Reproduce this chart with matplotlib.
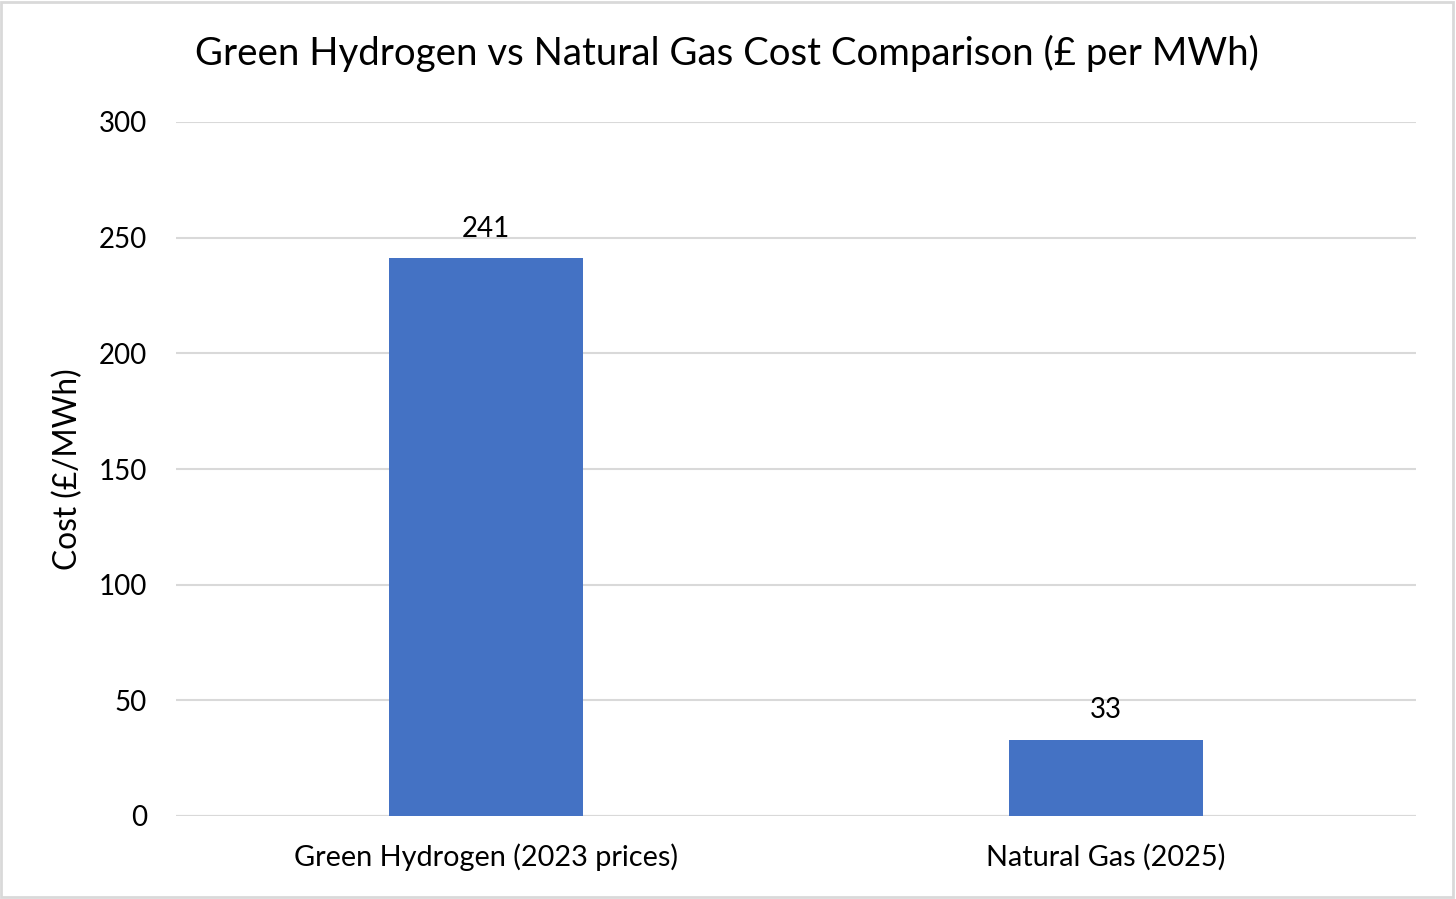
import matplotlib
matplotlib.use("Agg")
import matplotlib.pyplot as plt
from matplotlib.patches import Rectangle

categories = ["Green Hydrogen (2023 prices)", "Natural Gas (2025)"]
costs = [241, 33]
yticks = [0, 50, 100, 150, 200, 250, 300]
title = "Green Hydrogen vs Natural Gas Cost Comparison (£ per MWh)"
ylabel = "Cost (£/MWh)"

plt.rcParams['font.family'] = ['Lato', 'DejaVu Sans']

fig = plt.figure(figsize=(14.56, 8.99), dpi=100)
ax = fig.add_axes([176/1456, 83/899, 1240/1456, 694/899])

x = list(range(len(categories)))
bars = ax.bar(x, costs, width=0.313, color="#4472C4", zorder=3)
ax.set_xlim(-0.5, 1.5)
ax.set_ylim(0, 300)
ax.set_yticks(yticks)
ax.set_yticklabels([str(t) for t in yticks], fontsize=20)
ax.set_xticks(x)
ax.set_xticklabels(categories, fontsize=20.8)
ax.tick_params(axis='both', length=0, colors="#000000")
ax.tick_params(axis='y', pad=21)
ax.tick_params(axis='x', pad=20)
ax.grid(axis='y', color="#D9D9D9", linewidth=1.5, zorder=0)
for s in ax.spines.values():
    s.set_visible(False)
ax.axhline(0, color="#D9D9D9", linewidth=1.5, zorder=1)

for b, v in zip(bars, costs):
    ax.annotate(str(v), (b.get_x() + b.get_width()/2, v), xytext=(0, 12),
                textcoords="offset points", ha="center", va="bottom", fontsize=20)

ax.set_ylabel(ylabel, fontsize=22.8)
ax.yaxis.set_label_coords(-108/1240, 0.5)
ax.yaxis.label.set_va('center')
fig.text(727/1456, 1 - 53/899, title, ha="center", va="center", fontsize=27.6)

fig.patches.append(Rectangle((0.001, 0.002), 0.997, 0.996, transform=fig.transFigure,
                             fill=False, edgecolor="#D9D9D9", linewidth=2))

fig.savefig("out.png", dpi=100)
